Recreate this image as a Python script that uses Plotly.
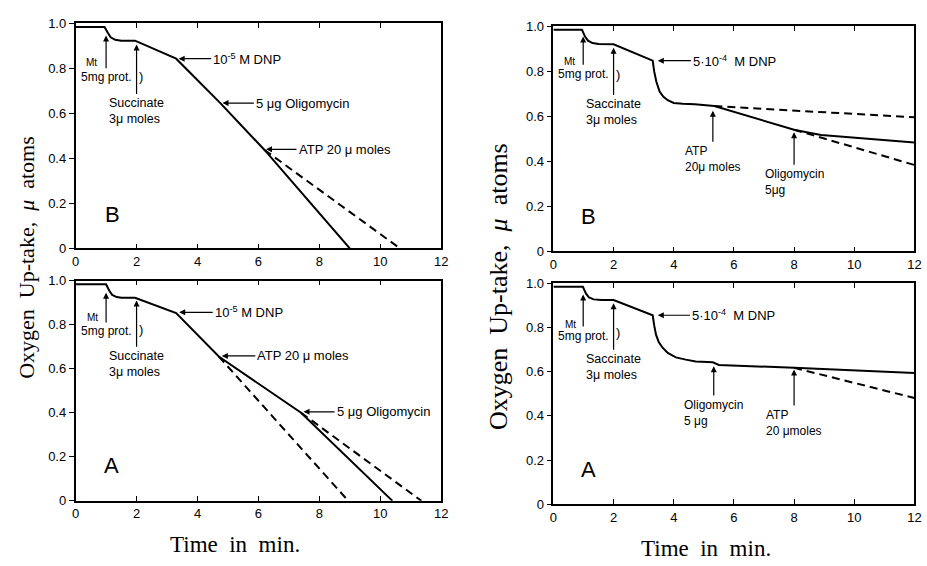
import plotly.graph_objects as go

# ---------------- data (time in min, oxygen uptake in micro-atoms) ----------------
# Top-left: B, 10^-5 M DNP
tl_t = [0, 0.95, 1.05, 1.15, 1.3, 1.5, 1.95, 3.3, 4.75, 6.2, 9.0]
tl_v = [0.983, 0.983, 0.958, 0.937, 0.926, 0.922, 0.922, 0.842, 0.645, 0.437, 0.0]
tl_dash_t = [6.2, 10.65]
tl_dash_v = [0.437, 0.0]

# Bottom-left: A, 10^-5 M DNP
bl_t = [0, 1.0, 1.1, 1.2, 1.35, 1.5, 1.95, 3.3, 4.7, 7.4, 10.4]
bl_v = [0.983, 0.983, 0.955, 0.935, 0.925, 0.922, 0.922, 0.852, 0.655, 0.40, 0.0]
bl_dash1_t = [4.7, 8.95]
bl_dash1_v = [0.655, 0.0]
bl_dash2_t = [7.4, 11.35]
bl_dash2_v = [0.40, 0.0]

# Top-right: B, 5*10^-4 M DNP
tr_t = [0, 0.95, 1.05, 1.15, 1.3, 1.5, 2.0, 3.3, 3.35, 3.42, 3.53, 3.65, 3.8, 4.0, 4.3, 4.7, 5.35, 8.0, 8.5, 8.9, 12]
tr_v = [0.985, 0.985, 0.955, 0.937, 0.926, 0.922, 0.921, 0.848, 0.80, 0.755, 0.711, 0.688, 0.672, 0.660, 0.656, 0.654, 0.646, 0.541, 0.527, 0.517, 0.484]
tr_dash1_t = [5.35, 12]
tr_dash1_v = [0.646, 0.596]
tr_dash2_t = [8.0, 12]
tr_dash2_v = [0.541, 0.384]

# Bottom-right: A, 5*10^-4 M DNP
br_t = [0, 0.98, 1.08, 1.18, 1.34, 1.6, 2.0, 3.3, 3.35, 3.41, 3.5, 3.63, 3.8, 4.07, 4.4, 4.73, 5.3, 5.4, 5.5, 8.0, 12]
br_v = [0.985, 0.985, 0.955, 0.937, 0.928, 0.925, 0.925, 0.856, 0.81, 0.768, 0.735, 0.709, 0.685, 0.665, 0.655, 0.647, 0.643, 0.636, 0.631, 0.618, 0.594]
br_dash_t = [8.0, 12]
br_dash_v = [0.618, 0.481]

x_ticks = [0, 2, 4, 6, 8, 10, 12]
x_tick_text = ["0", "2", "4", "6", "8", "10", "12"]
y_ticks = [0, 0.2, 0.4, 0.6, 0.8, 1.0]
y_tick_text = ["0", "0.2", "0.4", "0.6", "0.8", "1.0"]

SANS = "Liberation Sans, Arial, sans-serif"
SERIF = "Liberation Serif, Times New Roman, serif"

fig = go.Figure()


def add_line(t, v, xa, ya, dash="solid"):
    fig.add_trace(go.Scatter(
        x=t, y=v, mode="lines", xaxis=xa, yaxis=ya, showlegend=False,
        hoverinfo="skip",
        line=dict(color="black", width=2, dash=("8px,5px" if dash == "dash" else "solid")),
    ))


add_line(tl_t, tl_v, "x", "y")
add_line(tl_dash_t, tl_dash_v, "x", "y", "dash")
add_line(bl_t, bl_v, "x2", "y2")
add_line(bl_dash1_t, bl_dash1_v, "x2", "y2", "dash")
add_line(bl_dash2_t, bl_dash2_v, "x2", "y2", "dash")
add_line(tr_t, tr_v, "x3", "y3")
add_line(tr_dash1_t, tr_dash1_v, "x3", "y3", "dash")
add_line(tr_dash2_t, tr_dash2_v, "x3", "y3", "dash")
add_line(br_t, br_v, "x4", "y4")
add_line(br_dash_t, br_dash_v, "x4", "y4", "dash")

# ---------------- axes ----------------
left_dom = [0.0782, 0.4773]
right_dom = [0.5998, 0.9939]
y_doms = {
    1: [0.5618, 0.9708],   # top-left
    2: [0.1037, 0.5035],   # bottom-left
    3: [0.5565, 0.9647],   # top-right
    4: [0.0977, 0.4982],   # bottom-right
}
x_doms = {1: left_dom, 2: left_dom, 3: right_dom, 4: right_dom}

layout_axes = {}
for i in range(1, 5):
    xs = "" if i == 1 else str(i)
    ys = "" if i == 1 else str(i)
    layout_axes["xaxis" + xs] = dict(
        domain=x_doms[i], anchor="y" + ys, range=[0, 12],
        tickvals=x_ticks, ticktext=x_tick_text,
        ticks="inside", ticklen=5, tickwidth=1.2, tickcolor="black",
        showline=True, linecolor="black", linewidth=1.6, mirror="ticks",
        showgrid=False, zeroline=False,
        tickfont=dict(family=SANS, size=13, color="black"),
        fixedrange=True,
    )
    layout_axes["yaxis" + ys] = dict(
        domain=y_doms[i], anchor="x" + xs, range=[0, 1.0],
        tickvals=y_ticks, ticktext=y_tick_text,
        ticks="outside", ticklen=5, tickwidth=1.2, tickcolor="black",
        showline=True, linecolor="black", linewidth=1.6, mirror=True,
        showgrid=False, zeroline=False,
        tickfont=dict(family=SANS, size=13, color="black"),
        fixedrange=True,
    )
    # right-hand inside ticks
    layout_axes["yaxis" + str(i + 4)] = dict(
        domain=y_doms[i], anchor="x" + xs, overlaying="y" + ys, side="right",
        range=[0, 1.0], tickvals=y_ticks, showticklabels=False,
        ticks="inside", ticklen=5, tickwidth=1.2, tickcolor="black",
        showline=False, showgrid=False, zeroline=False, fixedrange=True,
    )

annotations = []


def text(xr, yr, x, y, s, size=13, xanchor="left", yanchor="middle", family=SANS):
    annotations.append(dict(
        x=x, y=y, xref=xr, yref=yr, text=s, showarrow=False,
        xanchor=xanchor, yanchor=yanchor, align="left",
        font=dict(family=family, size=size, color="black"),
    ))


def arrow(xr, yr, x, y, ax, ay, label, size=13, xanchor="left", yanchor="middle"):
    """Arrow from its label (placed at the tail ax, ay) to the head x, y."""
    annotations.append(dict(
        x=x, y=y, ax=ax, ay=ay, xref=xr, yref=yr, axref=xr, ayref=yr,
        text=label, showarrow=True, arrowhead=2, arrowsize=1, arrowwidth=1.2,
        arrowcolor="black", xanchor=xanchor, yanchor=yanchor, align="left",
        font=dict(family=SANS, size=size, color="black"),
    ))


def varrow(xr, yr, x, y, ay, label, size=12.5):
    arrow(xr, yr, x, y, x, ay, label, size, xanchor="center", yanchor="top")


# --- top-left (B, 10^-5 M DNP)
xr, yr = "x", "y"
text(xr, yr, 0.26, 0.825, "Mt", 10)
varrow(xr, yr, 1.0, 0.945, 0.80, "5mg prot.", 12)
text(xr, yr, 2.0, 0.765, ")", 13)
varrow(xr, yr, 2.0, 0.905, 0.685, "Succinate<br>3μ moles")
arrow(xr, yr, 3.38, 0.842, 4.45, 0.842, "10<sup>-5</sup> M DNP")
arrow(xr, yr, 4.82, 0.645, 5.85, 0.645, "5 μg Oligomycin")
arrow(xr, yr, 6.25, 0.44, 7.25, 0.44, "ATP 20 μ moles")
text(xr, yr, 1.2, 0.15, "B", 22, xanchor="center")

# --- bottom-left (A, 10^-5 M DNP)
xr, yr = "x2", "y2"
text(xr, yr, 0.32, 0.833, "Mt", 10)
varrow(xr, yr, 1.0, 0.945, 0.81, "5mg prot.", 12)
text(xr, yr, 2.0, 0.78, ")", 13)
varrow(xr, yr, 2.0, 0.91, 0.70, "Succinate<br>3μ moles")
arrow(xr, yr, 3.4, 0.856, 4.5, 0.856, "10<sup>-5</sup> M DNP")
arrow(xr, yr, 4.8, 0.658, 5.9, 0.658, "ATP 20 μ moles")
arrow(xr, yr, 7.48, 0.404, 8.5, 0.404, "5 μg Oligomycin")
text(xr, yr, 1.18, 0.16, "A", 22, xanchor="center")

# --- top-right (B, 5*10^-4 M DNP)
xr, yr = "x3", "y3"
text(xr, yr, 0.3, 0.846, "Mt", 10)
varrow(xr, yr, 0.99, 0.955, 0.83, "5mg prot.", 12)
text(xr, yr, 2.0, 0.785, ")", 13)
varrow(xr, yr, 2.0, 0.905, 0.695, "Saccinate<br>3μ moles")
arrow(xr, yr, 3.47, 0.848, 4.57, 0.848, "5·10<sup>-4</sup>  M DNP")
varrow(xr, yr, 5.3, 0.625, 0.487, "ATP<br>20μ moles", 12)
varrow(xr, yr, 8.0, 0.53, 0.385, "Oligomycin<br>5μg", 12)
text(xr, yr, 1.15, 0.155, "B", 22, xanchor="center")

# --- bottom-right (A, 5*10^-4 M DNP)
xr, yr = "x4", "y4"
text(xr, yr, 0.33, 0.815, "Mt", 10)
varrow(xr, yr, 0.99, 0.95, 0.805, "5mg prot.", 12)
text(xr, yr, 2.0, 0.78, ")", 13)
varrow(xr, yr, 2.0, 0.91, 0.70, "Saccinate<br>3μ moles")
arrow(xr, yr, 3.47, 0.856, 4.54, 0.856, "5·10<sup>-4</sup>  M DNP")
varrow(xr, yr, 5.33, 0.625, 0.492, "Oligomycin<br>5 μg", 12)
varrow(xr, yr, 8.0, 0.61, 0.447, "ATP<br>20 μmoles", 12)
text(xr, yr, 1.18, 0.157, "A", 22, xanchor="center")

# --- axis titles
nb = "\u00a0"
ytitle = "Oxygen" + nb * 2 + "Up-take," + nb * 2 + "<i>μ</i>" + nb * 2 + "atoms"
xtitle = "Time" + nb * 2 + "in" + nb * 2 + "min."
annotations.append(dict(x=0.0237, y=0.546, xref="paper", yref="paper", text=ytitle,
                        textangle=-90, showarrow=False, xanchor="center", yanchor="middle",
                        font=dict(family=SERIF, size=22, color="black")))
annotations.append(dict(x=0.540, y=0.493, xref="paper", yref="paper", text=ytitle,
                        textangle=-90, showarrow=False, xanchor="center", yanchor="middle",
                        font=dict(family=SERIF, size=26, color="black")))
annotations.append(dict(x=0.252, y=0.0247, xref="paper", yref="paper", text=xtitle,
                        showarrow=False, xanchor="center", yanchor="middle",
                        font=dict(family=SERIF, size=23, color="black")))
annotations.append(dict(x=0.766, y=0.0177, xref="paper", yref="paper", text=xtitle,
                        showarrow=False, xanchor="center", yanchor="middle",
                        font=dict(family=SERIF, size=23, color="black")))

fig.update_layout(
    width=927, height=566,
    margin=dict(l=0, r=0, t=0, b=0),
    paper_bgcolor="white", plot_bgcolor="white",
    showlegend=False,
    annotations=annotations,
    **layout_axes,
)

fig.write_html("out.html", config={"displayModeBar": False})
